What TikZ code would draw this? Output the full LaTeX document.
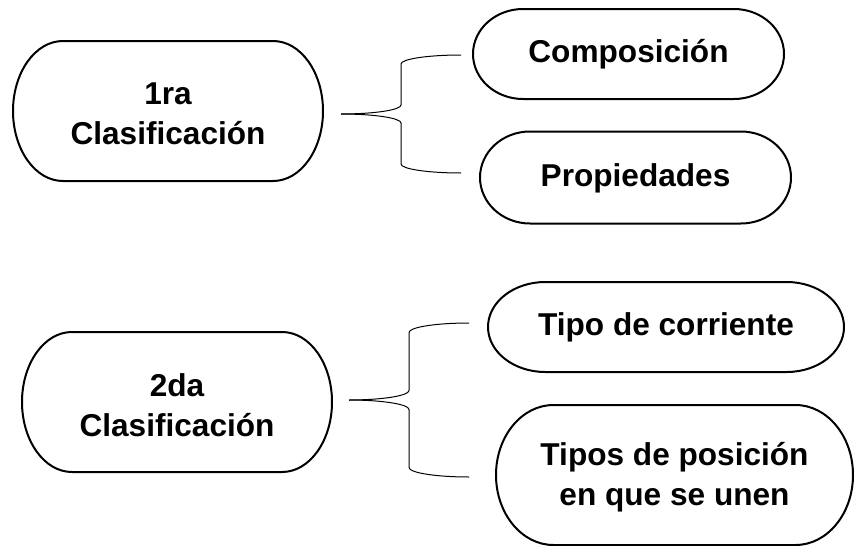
\documentclass[tikz,border=0pt]{standalone}
\usepackage{fontspec}
\setmainfont{Liberation Sans}
\usetikzlibrary{calc}
\tikzset{
  pillbox/.style={inner sep=0pt, outer sep=0pt},
  pilltext/.style={inner sep=0pt, outer sep=0pt, align=center,
    font=\fontsize{31.6}{40}\selectfont\bfseries},
  pillline/.style={line width=2pt, black},
  braceline/.style={line width=1pt, black},
}
% #1 name, #2 x, #3 y, #4 width, #5 height, #6 text drop, #7 text
\newcommand\pillnode[7]{%
  \node[pillbox, minimum width=#4pt, minimum height=#5pt] (#1) at (#2,#3) {};
  \node[pilltext] (#1-t) at ([yshift=-#6pt]#1.center) {#7};
  \draw[pillline] ([xshift=0.161*#4pt]#1.north west) -- ([xshift=-0.161*#4pt]#1.north east)
    arc[start angle=90,end angle=-90,x radius=0.161*#4pt,y radius=#5pt/2]
    -- ([xshift=0.161*#4pt]#1.south west)
    arc[start angle=270,end angle=90,x radius=0.161*#4pt,y radius=#5pt/2] -- cycle;
}
\begin{document}
\begin{tikzpicture}[x=1pt,y=-1pt]
  \fill[white] (0,0) rectangle (855,546);
  \useasboundingbox (0,0) rectangle (855,546);

  \pillnode{box1}{168}{111}{310}{140}{3}{1ra\\Clasificación}
  \pillnode{comp}{628.5}{54}{311}{90}{0.5}{Composición}
  \pillnode{prop}{635.5}{177.5}{311}{92}{0.5}{Propiedades}
  \pillnode{box2}{177}{402}{310}{140}{3}{2da\\Clasificación}
  \pillnode{tipo}{666}{327}{356}{90}{0.5}{Tipo de corriente}
  \pillnode{pos}{674.5}{475}{357}{140}{2}{Tipos de posición\\en que se unen}

  % brace 1
  \coordinate (t1) at (341,114);
  \draw[braceline] (t1) arc[start angle=-90,end angle=0,x radius=60pt,y radius=9pt]
    -- ++(0,-41) arc[start angle=180,end angle=90,x radius=60pt,y radius=9pt];
  \draw[braceline] (t1) arc[start angle=90,end angle=0,x radius=60pt,y radius=9pt]
    -- ++(0,41) arc[start angle=180,end angle=270,x radius=60pt,y radius=9pt];

  % brace 2
  \coordinate (t2) at (349,400);
  \draw[braceline] (t2) arc[start angle=-90,end angle=0,x radius=60pt,y radius=9.5pt]
    -- ++(0,-58) arc[start angle=180,end angle=90,x radius=60pt,y radius=9.5pt];
  \draw[braceline] (t2) arc[start angle=90,end angle=0,x radius=60pt,y radius=9.5pt]
    -- ++(0,58) arc[start angle=180,end angle=270,x radius=60pt,y radius=9.5pt];
\end{tikzpicture}
\end{document}
